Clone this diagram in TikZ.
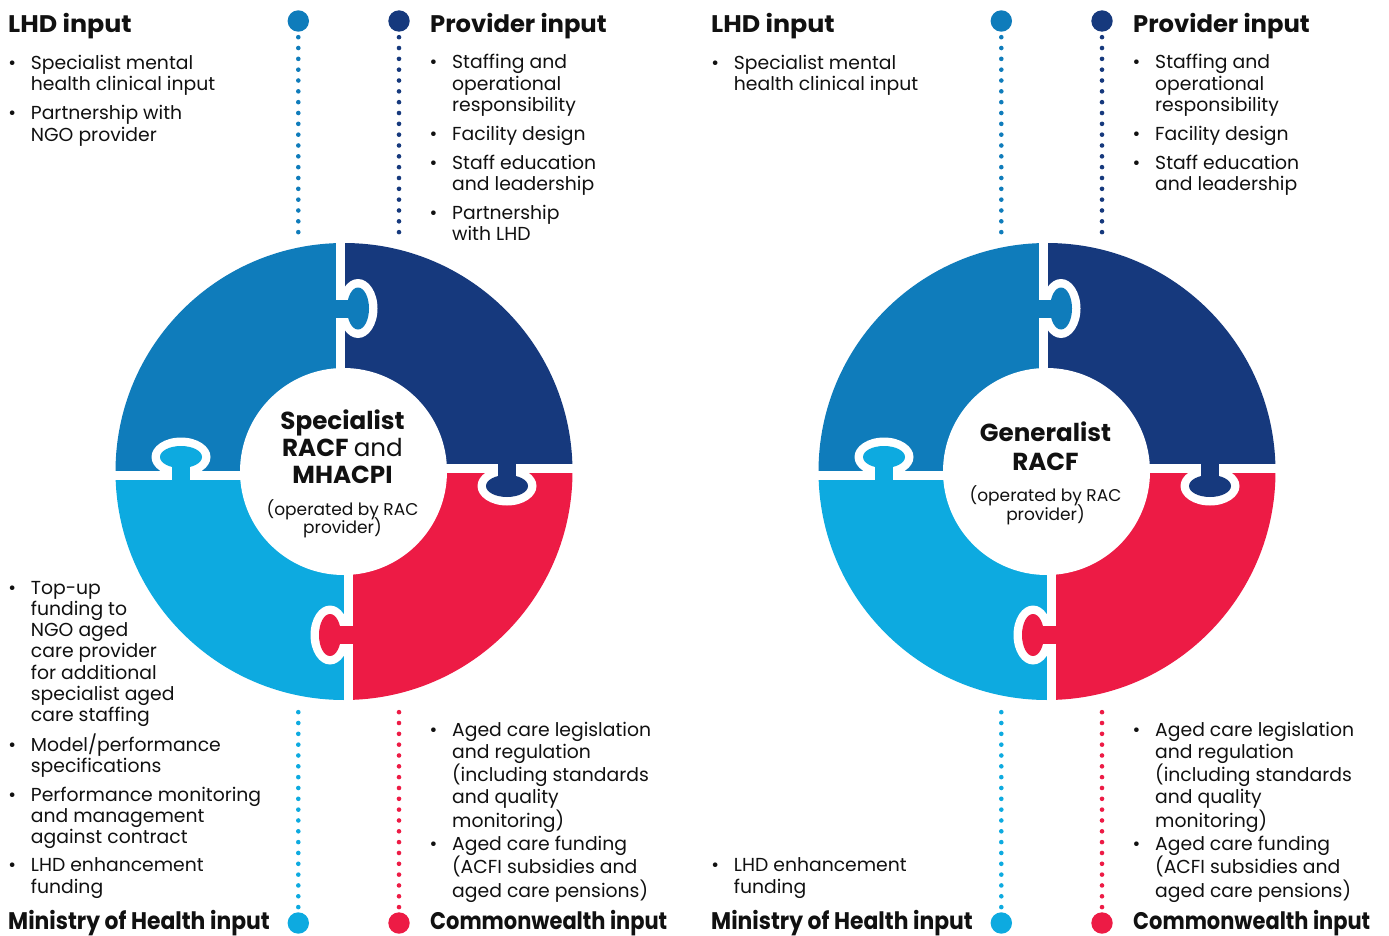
\documentclass[tikz,border=0pt]{standalone}
\usepackage{fontspec}
\usepackage{graphicx}
\setmainfont{Poppins}
\definecolor{cTL}{RGB}{15,124,187}
\definecolor{cTR}{RGB}{22,57,125}
\definecolor{cBR}{RGB}{237,27,69}
\definecolor{cBL}{RGB}{13,170,224}
\definecolor{ink}{RGB}{17,17,17}
\newcommand{\ml}[1]{\begin{tabular}[t]{@{}l@{}}#1\end{tabular}}
\newcommand{\hw}[2]{\resizebox{#1pt}{\height}{#2}}
\newcommand{\bitem}[4]{%
  \node[bul] (#1b) at (#2-18.5,#3) {\textbullet};
  \node[txt] (#1) at (#2,#3) {\ml{#4}};}
\newcommand{\puzzlering}{%
  \begin{scope}\clip (0,0) rectangle (344,472); \fill[cTL] (344,471.5) circle[radius=228.5];\end{scope}
  \begin{scope}\clip (344,0) rectangle (700,472); \fill[cTR] (344,471.5) circle[radius=228.5];\end{scope}
  \begin{scope}\clip (344,472) rectangle (700,936); \fill[cBR] (344,471.5) circle[radius=228.5];\end{scope}
  \begin{scope}\clip (0,472) rectangle (344,936); \fill[cBL] (344,471.5) circle[radius=228.5];\end{scope}
  \draw[gapline] (340.5,238) -- (340.5,472);
  \draw[gapline] (348,471) -- (348,705);
  \draw[gapline] (110,475) -- (344,475);
  \draw[gapline] (344,468) -- (578,468);
  % knob 1 (top, TL into TR)
  \fill[white] (358,308.5) ellipse[x radius=19.5, y radius=29.5];
  \fill[cTL] (358,308.5) ellipse[x radius=11, y radius=21];
  \fill[cTL] (332,299.5) rectangle (358,317.5);
  % knob 2 (left, BL into TL)
  \fill[white] (181,457) ellipse[x radius=29.5, y radius=19.5];
  \fill[cBL] (181,457) ellipse[x radius=21, y radius=11];
  \fill[cBL] (172,457) rectangle (190,483.5);
  % knob 3 (right, TR into BR)
  \fill[white] (507,486) ellipse[x radius=29.5, y radius=19.5];
  \fill[cTR] (507,486) ellipse[x radius=21, y radius=11];
  \fill[cTR] (498,459.5) rectangle (516,486);
  % knob 4 (bottom, BR into BL)
  \fill[white] (330,635) ellipse[x radius=19.5, y radius=29.5];
  \fill[cBR] (330,635) ellipse[x radius=11, y radius=21];
  \fill[cBR] (330,626) rectangle (356.5,644);
  \fill[white] (343.5,471.5) circle[radius=103.5];
}
\begin{document}
\begin{tikzpicture}[x=1pt,y=-1pt,
  bigdot/.style={circle, inner sep=0pt, minimum size=21.4pt},
  dotline/.style={line width=4.6pt, line cap=round, dash pattern=on 0pt off 10.83pt},
  gapline/.style={white, line width=9pt},
  txt/.style={anchor=base west, inner sep=0pt, text=ink, font=\fontsize{18.8}{21.3}\selectfont},
  bul/.style={anchor=base, inner sep=0pt, text=ink, font=\fontsize{18.8}{21.3}\selectfont},
  head/.style={anchor=base west, inner sep=0pt, text=ink, font=\fontsize{24}{28}\selectfont\bfseries},
  ctrb/.style={anchor=base, inner sep=0pt, text=ink, font=\fontsize{24.6}{28}\selectfont\bfseries},
  ctrs/.style={anchor=base, inner sep=0pt, text=ink, font=\fontsize{17}{19}\selectfont},
]
\useasboundingbox[fill=white] (0,0) rectangle (1389,936);

% ================= LEFT DIAGRAM =================
\puzzlering
\node[ctrb] (lc1) at (342.5,429.3) {Specialist};
\node[ctrb] (lc2) at (342.5,456) {RACF \mdseries and};
\node[ctrb] (lc3) at (342.5,483.3) {MHACPI};
\node[ctrs] (lc4) at (342.5,515) {(operated by RAC};
\node[ctrs] (lc5) at (342.5,533) {provider)};

\node[bigdot, fill=cTL] (lhdD) at (298.3,21) {};
\coordinate (lhdE) at (298.3,234);
\draw[dotline, cTL, shorten <=5.3pt] (lhdD) -- (lhdE);
\node[bigdot, fill=cTR] (provD) at (399,21) {};
\coordinate (provE) at (399,234);
\draw[dotline, cTR, shorten <=5.3pt] (provD) -- (provE);
\node[bigdot, fill=cBL] (mohD) at (298.3,923) {};
\coordinate (mohE) at (298.3,709);
\draw[dotline, cBL, shorten <=5pt] (mohD) -- (mohE);
\node[bigdot, fill=cBR] (cwD) at (399,923) {};
\coordinate (cwE) at (399,709);
\draw[dotline, cBR, shorten <=5pt] (cwD) -- (cwE);

\node[head] (lhdH) at (8,32.3) {\hw{123.5}{LHD input}};
\bitem{lhdIa}{30.7}{69.5}{Specialist mental\\health clinical input}
\bitem{lhdIb}{30.7}{120}{Partnership with\\NGO provider}
\node[head] (provH) at (430,32.3) {\hw{176.5}{Provider input}};
\bitem{provIa}{452}{69}{Staffing and\\operational\\responsibility}
\bitem{provIb}{452}{140.5}{Facility design}
\bitem{provIc}{452}{169.5}{Staff education\\and leadership}
\bitem{provId}{452}{219}{Partnership\\with LHD}
\bitem{mohIa}{30.7}{594}{Top-up\\funding to\\NGO aged\\care provider\\for additional\\specialist aged\\care staffing}
\bitem{mohIb}{30.7}{751}{Model/performance\\specifications}
\bitem{mohIc}{30.7}{801}{Performance monitoring\\and management\\against contract}
\bitem{mohId}{30.7}{871.7}{LHD enhancement\\funding}
\node[head] (mohH) at (8,929.5) {\hw{261.5}{Ministry of Health input}};
\bitem{cwIa}{452}{736.7}{Aged care legislation\\and regulation\\(including standards\\and quality\\monitoring)}
\bitem{cwIb}{452}{850}{Aged care funding\\(ACFI subsidies and\\aged care pensions)}
\node[head] (cwH) at (430,929.5) {\hw{237}{Commonwealth input}};

% ================= RIGHT DIAGRAM =================
\begin{scope}[xshift=703pt]
\puzzlering
\node[ctrb] (rc1) at (342.5,441.7) {Generalist};
\node[ctrb] (rc2) at (342.5,470) {RACF};
\node[ctrs] (rc3) at (342.5,501.7) {(operated by RAC};
\node[ctrs] (rc4) at (342.5,520.7) {provider)};

\node[bigdot, fill=cTL] (rlhdD) at (298.3,21) {};
\coordinate (rlhdE) at (298.3,234);
\draw[dotline, cTL, shorten <=5.3pt] (rlhdD) -- (rlhdE);
\node[bigdot, fill=cTR] (rprovD) at (399,21) {};
\coordinate (rprovE) at (399,234);
\draw[dotline, cTR, shorten <=5.3pt] (rprovD) -- (rprovE);
\node[bigdot, fill=cBL] (rmohD) at (298.3,923) {};
\coordinate (rmohE) at (298.3,709);
\draw[dotline, cBL, shorten <=5pt] (rmohD) -- (rmohE);
\node[bigdot, fill=cBR] (rcwD) at (399,923) {};
\coordinate (rcwE) at (399,709);
\draw[dotline, cBR, shorten <=5pt] (rcwD) -- (rcwE);

\node[head] (rlhdH) at (8,32.3) {\hw{123.5}{LHD input}};
\bitem{rlhdIa}{30.7}{69.5}{Specialist mental\\health clinical input}
\node[head] (rprovH) at (430,32.3) {\hw{176.5}{Provider input}};
\bitem{rprovIa}{452}{69}{Staffing and\\operational\\responsibility}
\bitem{rprovIb}{452}{140.5}{Facility design}
\bitem{rprovIc}{452}{169.5}{Staff education\\and leadership}
\bitem{rmohIa}{30.7}{871.7}{LHD enhancement\\funding}
\node[head] (rmohH) at (8,929.5) {\hw{261.5}{Ministry of Health input}};
\bitem{rcwIa}{452}{736.7}{Aged care legislation\\and regulation\\(including standards\\and quality\\monitoring)}
\bitem{rcwIb}{452}{850}{Aged care funding\\(ACFI subsidies and\\aged care pensions)}
\node[head] (rcwH) at (430,929.5) {\hw{237}{Commonwealth input}};
\end{scope}
\end{tikzpicture}
\end{document}
